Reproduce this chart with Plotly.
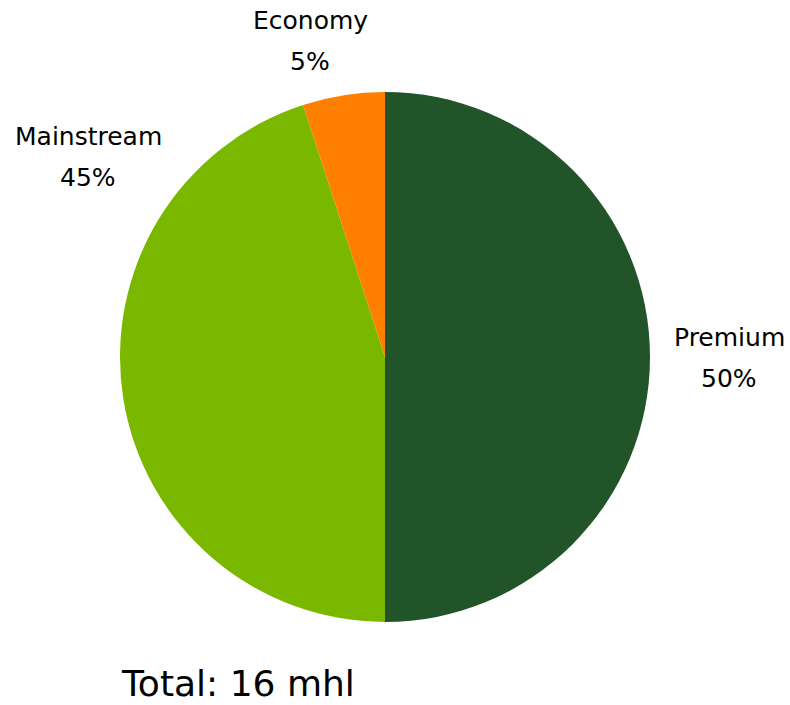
import plotly.graph_objects as go

segments = ["Premium", "Mainstream", "Economy"]
shares = [50, 45, 5]
colors = ["#22542A", "#7AB800", "#FF7F00"]
total_text = "Total: 16 mhl"

W, H = 790, 705
cx, cy, r = 385, 357, 265

fig = go.Figure(go.Pie(
    labels=segments, values=shares, sort=False, direction="clockwise", rotation=0,
    marker=dict(colors=colors, line=dict(width=0)),
    textinfo="none", hoverinfo="label+percent", showlegend=False,
    domain=dict(x=[(cx - r) / W, (cx + r) / W], y=[(H - cy - r) / H, (H - cy + r) / H]),
))

# label anchor positions in pixels (name line center, percent line center)
label_pos = {
    "Premium": (729, 337, 378),
    "Mainstream": (88, 136, 178),
    "Economy": (310, 20, 61),
}
tot = sum(shares)
font = dict(family="DejaVu Sans", size=25, color="#000000")
for name, val in zip(segments, shares):
    x, y1, y2 = label_pos[name]
    fig.add_annotation(x=x / W, y=1 - y1 / H, xref="paper", yref="paper", text=name,
                       showarrow=False, xanchor="center", yanchor="middle", font=font)
    fig.add_annotation(x=x / W, y=1 - y2 / H, xref="paper", yref="paper",
                       text=f"{val / tot * 100:.0f}%",
                       showarrow=False, xanchor="center", yanchor="middle", font=font)

fig.add_annotation(x=238 / W, y=0, xref="paper", yref="paper", text=total_text,
                   showarrow=False, xanchor="center", yanchor="bottom", borderpad=0,
                   font=dict(family="DejaVu Sans", size=36, color="#000000"))

fig.update_layout(width=W, height=H, margin=dict(l=0, r=0, t=0, b=0),
                  paper_bgcolor="white", plot_bgcolor="white")
fig.write_html("out.html")
